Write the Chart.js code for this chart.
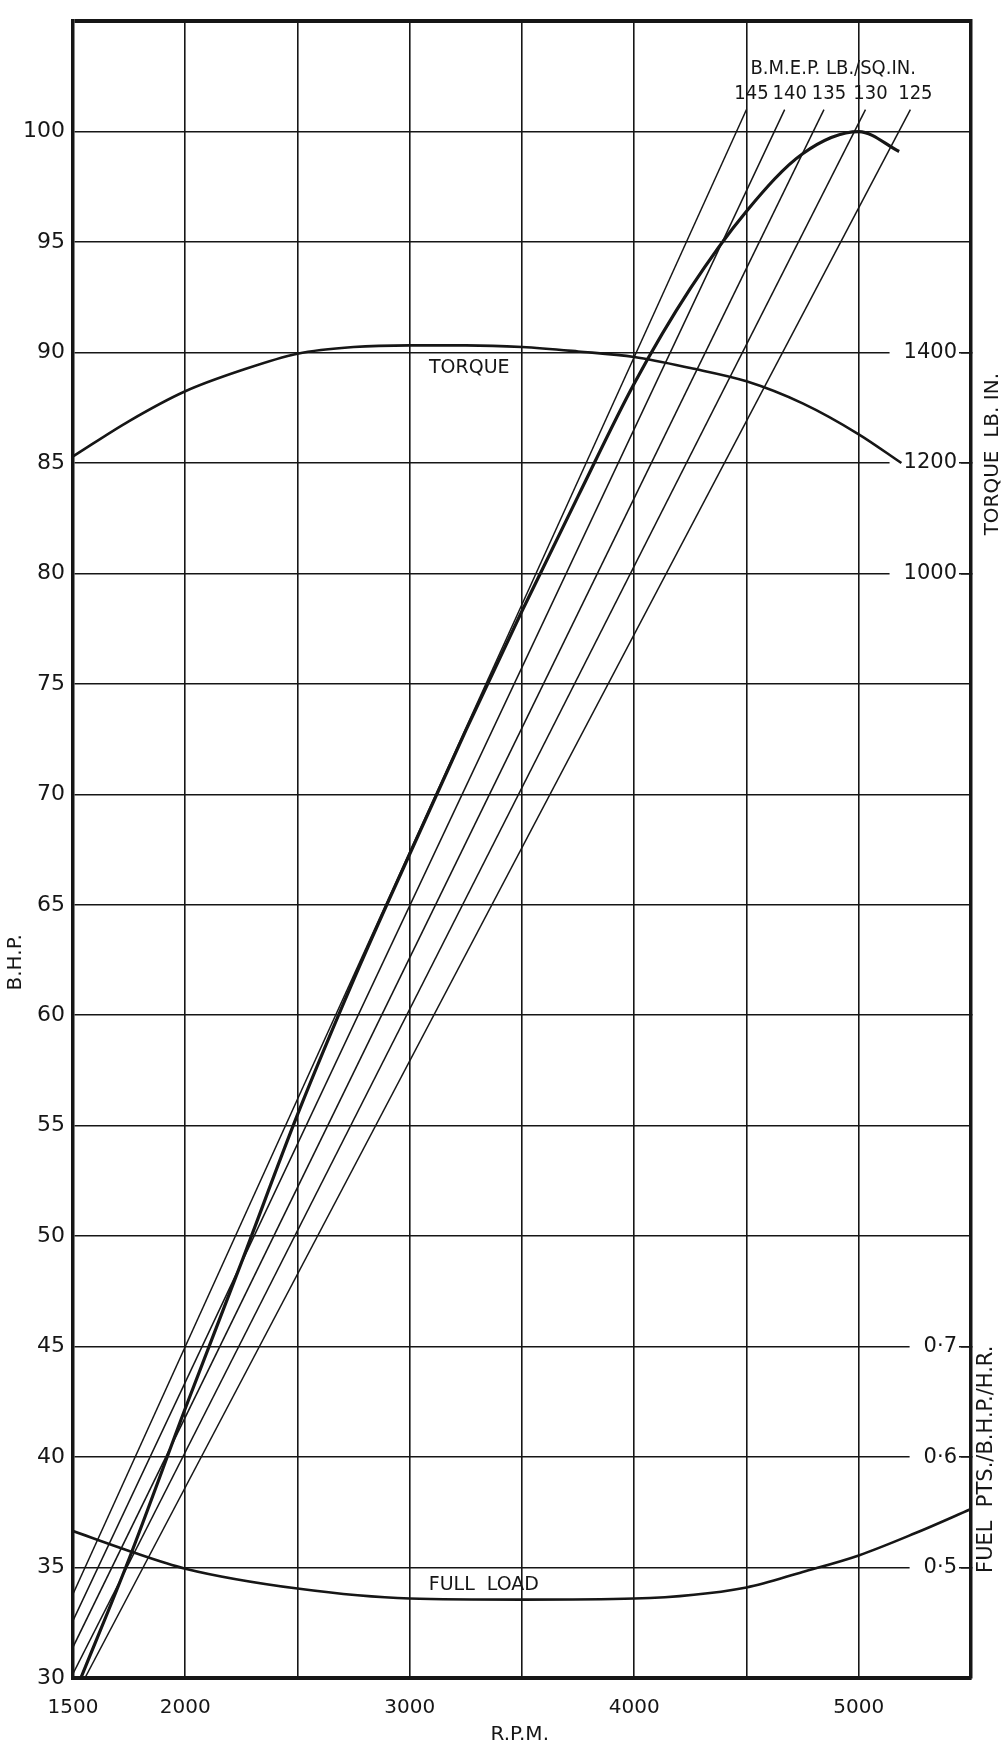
<!DOCTYPE html>
<html>
<head>
<meta charset="utf-8">
<title>B.H.P. / Torque / Fuel vs R.P.M.</title>
<script src="https://cdn.jsdelivr.net/npm/chart.js@4.4.1/dist/chart.umd.min.js"></script>
<style>
  html, body { margin: 0; padding: 0; background: #fff; }
  #wrap { width: 1004px; height: 1745px; }
</style>
</head>
<body>
<div id="wrap"><canvas id="chart" width="1004" height="1745"></canvas></div>
<script>
// values
const rpmLabels = [1500, 2000, 3000, 4000, 5000];
const torqueTicks = [1000, 1200, 1400];
const fuelTicks = [0.5, 0.6, 0.7];

const powerRpm = [1535, 1750, 2000, 2250, 2500, 2750, 3000, 3250, 3500, 3750, 4000, 4250, 4500, 4750, 5000, 5180];
const powerBhp = [30.0, 35.4, 42.2, 48.8, 55.5, 61.6, 67.3, 72.9, 78.3, 83.5, 88.6, 92.9, 96.4, 99.0, 100.0, 99.1];

const torqueRpm = [1500, 1750, 2000, 2250, 2500, 2750, 3000, 3250, 3500, 3750, 4000, 4250, 4500, 4750, 5000, 5190];
const torqueLbIn = [1212, 1276, 1330, 1368, 1398, 1410, 1413, 1413, 1410, 1402, 1392, 1372, 1348, 1308, 1252, 1200];

const fuelRpm = [1500, 1750, 2000, 2500, 3000, 3500, 4000, 4500, 4750, 5000, 5250, 5500];
const fuelPts = [0.533, 0.515, 0.499, 0.481, 0.472, 0.471, 0.472, 0.482, 0.496, 0.511, 0.531, 0.553];

const bmepValues = [145, 140, 135, 130, 125];
const bmepStartRpm = [1500, 1500, 1500, 1500, 1553];
const bmepStartBhp = [33.8, 32.6, 31.4, 30.2, 30.0];
const bmepEndRpm = [4500, 4670, 4845, 5030, 5230];
const bmepEndBhp = [101.0, 101.0, 101.0, 101.0, 101.0];

const ink = "#161616";
const fontFamily = "'DejaVu Sans', sans-serif";
const narrowFamily = "'DejaVu Sans Condensed', 'Liberation Sans Narrow', 'DejaVu Sans', sans-serif";

const toPoints = (xs, ys) => xs.map((x, i) => ({ x: x, y: ys[i] }));

const bmepSets = bmepValues.map((b, i) => ({
  label: "BMEP " + b,
  data: [
    { x: bmepStartRpm[i], y: bmepStartBhp[i] },
    { x: bmepEndRpm[i], y: bmepEndBhp[i] },
  ],
  yAxisID: "y",
  borderColor: ink,
  borderWidth: 1.5,
  tension: 0,
}));

// titles and curve labels, placed with the scales
const textPlugin = {
  id: "texts",
  afterDraw(chart) {
    const { ctx, chartArea, scales } = chart;
    const x = scales.x, y = scales.y;
    const put = (txt, px, py, font, rot, align) => {
      ctx.save();
      ctx.translate(px, py);
      if (rot) ctx.rotate(rot);
      ctx.font = font;
      ctx.fillStyle = ink;
      ctx.textAlign = align || "center";
      ctx.textBaseline = "middle";
      ctx.fillText(txt, 0, 0);
      ctx.restore();
    };
    const f = (size) => size + "px " + fontFamily;
    put("B.H.P.", 16, y.getPixelForValue(62.4), f(20), -Math.PI / 2);
    put("R.P.M.", x.getPixelForValue(3490), chart.height - 10, f(20));
    put("TORQUE  LB. IN.", chartArea.right + 22, y.getPixelForValue(85.4), f(20), -Math.PI / 2);
    put("FUEL  PTS./B.H.P./H.R.", chartArea.right + 16, y.getPixelForValue(39.9), f(21), -Math.PI / 2);
    put("TORQUE", x.getPixelForValue(3265), y.getPixelForValue(89.3), f(19));
    put("FULL  LOAD", x.getPixelForValue(3330), y.getPixelForValue(34.2), f(19));
    put("B.M.E.P. LB./SQ.IN.", x.getPixelForValue(4500) + 4, y.getPixelForValue(101) - 41, "20px " + narrowFamily, 0, "left");
    bmepValues.forEach((b, i) => {
      put(String(b), x.getPixelForValue(bmepEndRpm[i]) + 5, y.getPixelForValue(bmepEndBhp[i]) - 16, "20px " + narrowFamily);
    });
  },
};

const ctx = document.getElementById("chart").getContext("2d");
const chart = new Chart(ctx, {
  type: "scatter",
  data: {
    datasets: [
      ...bmepSets,
      {
        label: "B.H.P.",
        data: toPoints(powerRpm, powerBhp),
        yAxisID: "y",
        borderColor: ink,
        borderWidth: 3.2,
        cubicInterpolationMode: "monotone",
      },
      {
        label: "Torque",
        data: toPoints(torqueRpm, torqueLbIn),
        yAxisID: "yT",
        borderColor: ink,
        borderWidth: 2.6,
        cubicInterpolationMode: "monotone",
      },
      {
        label: "Full load",
        data: toPoints(fuelRpm, fuelPts),
        yAxisID: "yF",
        borderColor: ink,
        borderWidth: 2.6,
        cubicInterpolationMode: "monotone",
      },
    ],
  },
  options: {
    responsive: false,
    animation: false,
    showLine: true,
    layout: { padding: { top: 12, left: 0, right: 0, bottom: 0 } },
    elements: { point: { radius: 0 }, line: { fill: false } },
    plugins: { legend: { display: false }, tooltip: { enabled: false } },
    scales: {
      x: {
        type: "linear",
        min: 1500,
        max: 5500,
        afterFit(s) { s.height = 67; },
        border: { color: ink, width: 4 },
        grid: { color: ink, lineWidth: 1.6, drawTicks: false },
        ticks: {
          stepSize: 500,
          autoSkip: false,
          maxRotation: 0,
          padding: 18,
          color: ink,
          font: { family: fontFamily, size: 20 },
          callback: (v) => (rpmLabels.includes(v) ? String(v) : ""),
        },
      },
      y: {
        position: "left",
        min: 30,
        max: 105,
        afterFit(s) { s.width = 73; },
        border: { color: ink, width: 3.5 },
        grid: {
          color: ink,
          lineWidth: (c) => (c.tick && c.tick.value === 105 ? 4 : 1.6),
          drawTicks: false,
        },
        ticks: {
          stepSize: 5,
          padding: 8,
          color: ink,
          font: { family: fontFamily, size: 22 },
          callback: (v) => (v === 105 ? "" : String(v)),
        },
      },
      yT: {
        position: "right",
        stack: "right",
        stackWeight: 45,
        min: 200,
        max: 2000,
        afterFit(s) { s.width = 33; },
        afterBuildTicks(s) { s.ticks = torqueTicks.map((v) => ({ value: v })); },
        border: { color: ink, width: 3.5 },
        grid: { drawOnChartArea: false, color: ink, lineWidth: 1.6, tickLength: -10 },
        ticks: {
          mirror: true,
          padding: -14,
          color: ink,
          font: { family: fontFamily, size: 21 },
          showLabelBackdrop: true,
          backdropColor: "#ffffff",
          backdropPadding: { left: 14, right: 2, top: 1, bottom: 1 },
          callback: (v) => String(v),
        },
      },
      yF: {
        position: "right",
        stack: "right",
        stackWeight: 30,
        min: 0.4,
        max: 1.0,
        afterFit(s) { s.width = 33; },
        afterBuildTicks(s) { s.ticks = fuelTicks.map((v) => ({ value: v })); },
        border: { color: ink, width: 3.5 },
        grid: { drawOnChartArea: false, color: ink, lineWidth: 1.6, tickLength: -10 },
        ticks: {
          mirror: true,
          padding: -14,
          color: ink,
          font: { family: fontFamily, size: 21 },
          showLabelBackdrop: true,
          backdropColor: "#ffffff",
          backdropPadding: { left: 14, right: 2, top: 1, bottom: 1 },
          callback: (v) => v.toFixed(1).replace(".", "·"),
        },
      },
    },
  },
  plugins: [textPlugin],
});
</script>
</body>
</html>
